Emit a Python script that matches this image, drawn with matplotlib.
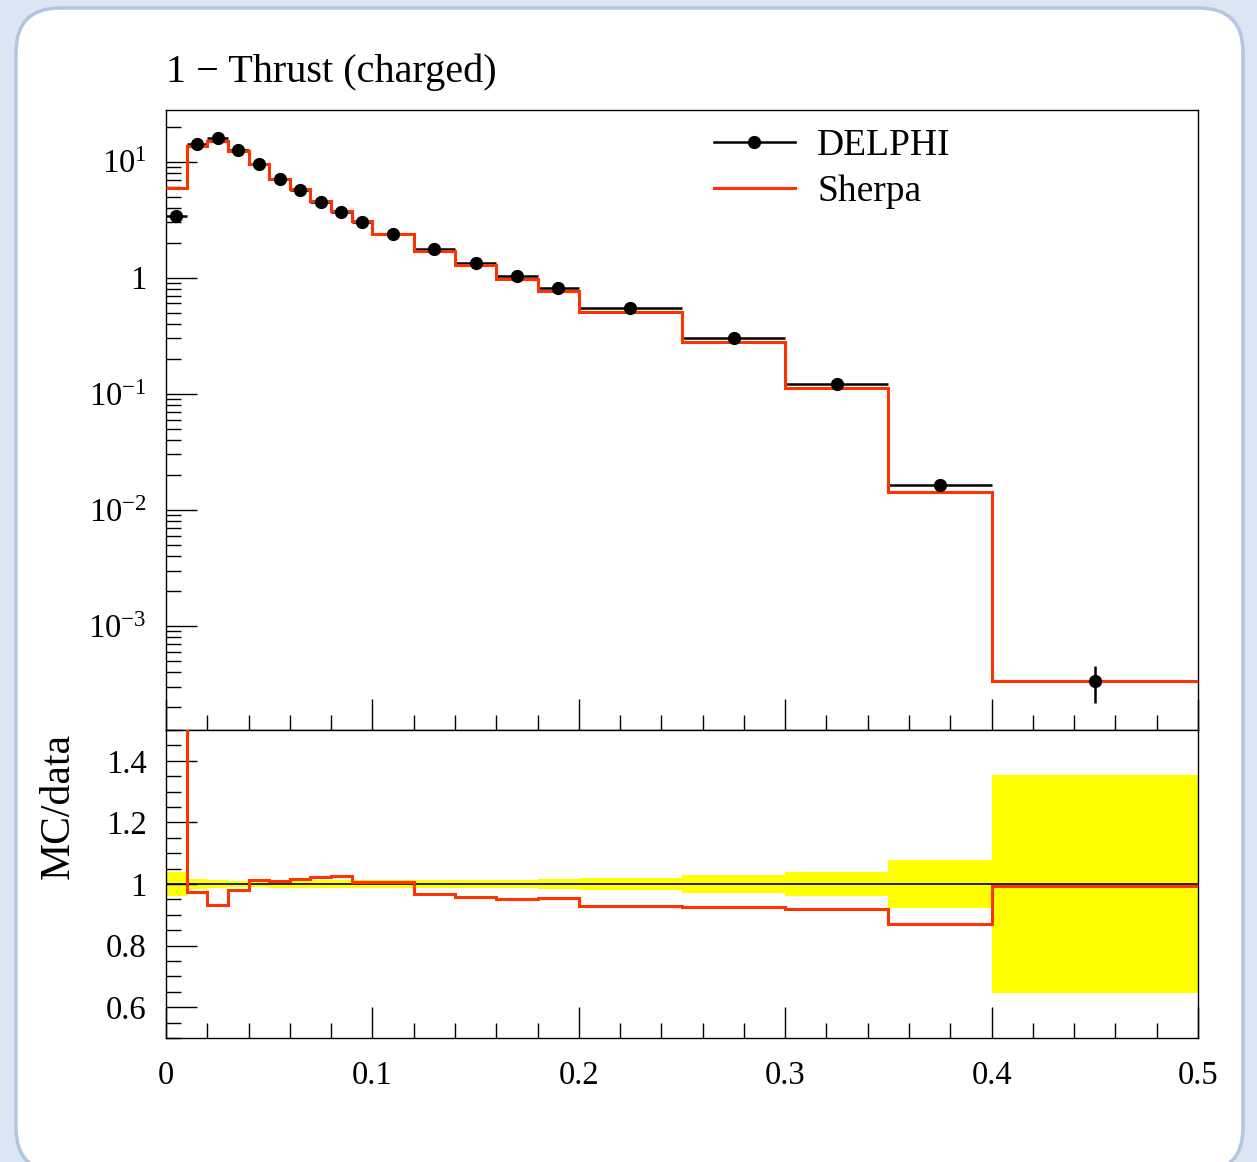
import numpy as np
import matplotlib
matplotlib.use("Agg")
import matplotlib.pyplot as plt
from matplotlib.patches import FancyBboxPatch
from matplotlib.lines import Line2D
from matplotlib.transforms import IdentityTransform
from matplotlib.ticker import FixedLocator, FuncFormatter, MultipleLocator, LogLocator, NullFormatter

plt.rcParams['font.family'] = ['Liberation Serif', 'DejaVu Serif']
plt.rcParams['mathtext.fontset'] = 'custom'
plt.rcParams['mathtext.rm'] = 'Liberation Serif'
plt.rcParams['mathtext.it'] = 'Liberation Serif:italic'

# bin edges of 1 - T (charged)
edges = [0.0, 0.01, 0.02, 0.03, 0.04, 0.05, 0.06, 0.07, 0.08, 0.09, 0.10,
         0.12, 0.14, 0.16, 0.18, 0.20, 0.25, 0.30, 0.35, 0.40, 0.50]
# DELPHI data
delphi = [3.37, 14.1, 16.0, 12.6, 9.46, 7.07, 5.69, 4.51, 3.65, 3.03,
          2.36, 1.76, 1.34, 1.03, 0.809, 0.544, 0.300, 0.121, 0.0164, 3.35e-4]
# relative data uncertainty (yellow band)
delphi_relerr = [0.040, 0.017, 0.012, 0.011, 0.011, 0.012, 0.013, 0.013, 0.014, 0.013,
                 0.012, 0.012, 0.013, 0.014, 0.016, 0.020, 0.028, 0.040, 0.079, 0.354]
# Sherpa / data
ratio = [1.745, 0.974, 0.931, 0.982, 1.012, 1.010, 1.017, 1.023, 1.025, 1.006,
         1.006, 0.968, 0.958, 0.951, 0.953, 0.930, 0.924, 0.919, 0.871, 0.992]

edges = np.array(edges)
delphi = np.array(delphi)
delphi_relerr = np.array(delphi_relerr)
ratio = np.array(ratio)
sherpa = delphi * ratio
centers = 0.5 * (edges[1:] + edges[:-1])
halfw = 0.5 * np.diff(edges)

W, H = 1257, 1162
red = '#ff3300'
tick_fs = 23.5

fig = plt.figure(figsize=(W / 100, H / 100), dpi=100, facecolor='#dce6f2')
card = FancyBboxPatch((16, -10), 1227, 1164, boxstyle='round,pad=0,rounding_size=44',
                      transform=IdentityTransform(), facecolor='white',
                      edgecolor='#b3c5df', linewidth=2.5, zorder=-5)
fig.patches.append(card)

def fx(px):
    return px / W

def fy(py):
    return 1 - py / H

ax = fig.add_axes([fx(166), fy(730), fx(1198) - fx(166), fy(110) - fy(730)])
ax2 = fig.add_axes([fx(166), fy(1038), fx(1198) - fx(166), fy(730) - fy(1038)])

# main plot: data bars, then MC, then data markers on top
ax.errorbar(centers, delphi, xerr=halfw, yerr=delphi * delphi_relerr, fmt='none', ecolor='black',
            elinewidth=1.8, capsize=0, zorder=2)
ax.stairs(sherpa, edges, baseline=None, color=red, linewidth=2.2, zorder=3)
ax.plot(centers, delphi, 'o', color='black', markersize=8.5, zorder=4)
ax.set_yscale('log')
ax.set_xlim(0, 0.5)
ax.set_ylim(1.27e-4, 27.8)

def logfmt(v, pos):
    n = int(round(np.log10(v)))
    if n == 0:
        return '1'
    return r'$10^{%d}$' % n

ax.yaxis.set_major_locator(FixedLocator([1e-3, 1e-2, 1e-1, 1, 10]))
ax.yaxis.set_major_formatter(FuncFormatter(logfmt))
ax.yaxis.set_minor_locator(LogLocator(base=10, subs=np.arange(2, 10), numticks=20))
ax.yaxis.set_minor_formatter(NullFormatter())
ax.xaxis.set_major_locator(MultipleLocator(0.1))
ax.xaxis.set_minor_locator(MultipleLocator(0.02))
ax.tick_params(axis='both', which='both', direction='in', top=False, right=False,
               labelbottom=False)
ax.tick_params(axis='both', which='major', length=22.5, width=1, labelsize=tick_fs, pad=14)
ax.tick_params(axis='both', which='minor', length=10.5, width=1)
for s in ax.spines.values():
    s.set_linewidth(1)

handles = [Line2D([], [], color='black', marker='o', markersize=8.5, linewidth=1.8),
           Line2D([], [], color=red, linewidth=2.2)]
ax.legend(handles, ['DELPHI', 'Sherpa'], loc='upper left',
          bbox_to_anchor=(0.531, 0.97), frameon=False, fontsize=27,
          handlelength=2.16, handletextpad=0.59, labelspacing=0.3, borderaxespad=0,
          borderpad=0)

# ratio plot
ax2.bar(edges[:-1], 2 * delphi_relerr, bottom=1 - delphi_relerr, width=np.diff(edges),
        align='edge', color='#ffff00', linewidth=0, zorder=1)
ax2.axhline(1, color='black', linewidth=1.2, zorder=2)
ax2.stairs(ratio, edges, baseline=None, color=red, linewidth=2.2, zorder=3)
ax2.set_xlim(0, 0.5)
ax2.set_ylim(0.5, 1.5)
ax2.xaxis.set_major_locator(MultipleLocator(0.1))
ax2.xaxis.set_minor_locator(MultipleLocator(0.02))
ax2.yaxis.set_major_locator(FixedLocator([0.6, 0.8, 1.0, 1.2, 1.4]))
ax2.yaxis.set_minor_locator(MultipleLocator(0.05))
ax2.xaxis.set_major_formatter(FuncFormatter(lambda v, p: '0' if abs(v) < 1e-9 else '%.1f' % v))
ax2.yaxis.set_major_formatter(FuncFormatter(lambda v, p: '1' if abs(v - 1) < 1e-9 else '%.1f' % v))
ax2.tick_params(axis='both', which='both', direction='in', top=False, right=False)
ax2.tick_params(axis='both', which='major', length=22.5, width=1, labelsize=tick_fs, pad=14)
ax2.tick_params(axis='x', which='major', pad=16)
ax2.tick_params(axis='both', which='minor', length=10.5, width=1)
for s in ax2.spines.values():
    s.set_linewidth(1)

fig.text(fx(166), fy(82), '1 \u2212 Thrust (charged)', fontsize=29, ha='left', va='baseline')
fig.text(fx(58), fy(806), 'MC/data', fontsize=30, rotation=90, ha='center', va='center')

fig.savefig('out.png', dpi=100, facecolor=fig.get_facecolor())
